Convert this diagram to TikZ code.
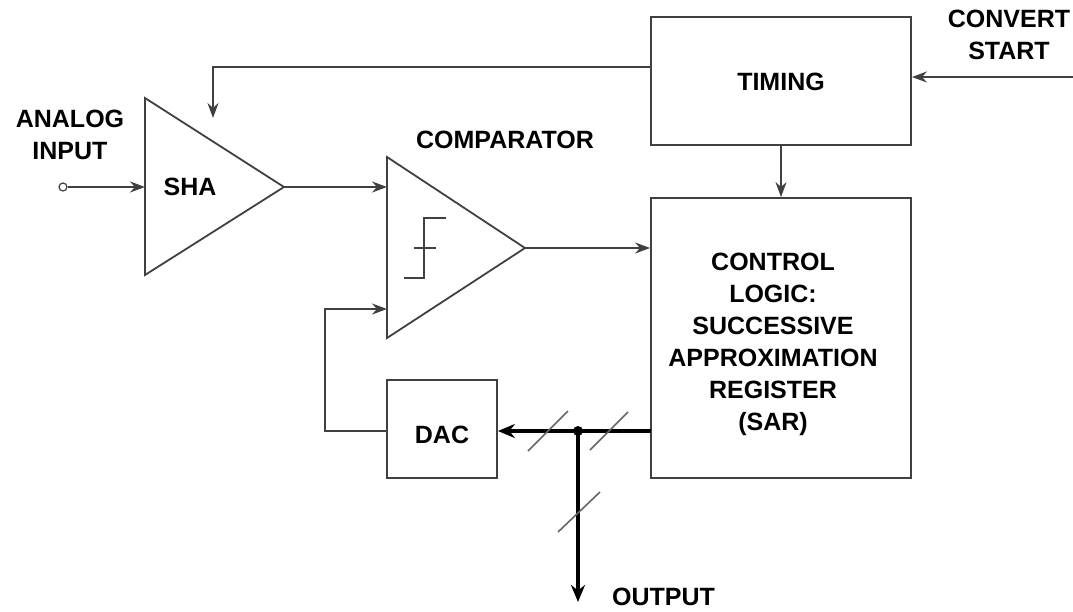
\documentclass[tikz,border=0pt]{standalone}
\usepackage{fontspec}
\setmainfont{Liberation Sans}
\usetikzlibrary{arrows.meta}
\begin{document}
\begin{tikzpicture}[x=1pt,y=-1pt,
  ln/.style={draw=black!75,line width=1.8pt},
  arr/.style={ln,-{Stealth[length=15pt,width=11pt]}},
  bus/.style={draw=black,line width=3.5pt,-{Stealth[length=17pt,width=14pt]}},
  slash/.style={draw=black!60,line width=1.6pt},
  box/.style={ln,fill=white,inner sep=0pt},
  lbl/.style={font=\fontsize{25}{32}\selectfont\bfseries,align=center,inner sep=0pt}]
\useasboundingbox (0,0) rectangle (1073,611);
% boxes
\node[box,minimum width=260pt,minimum height=128pt] (timing) at (781,81) {};
\node[lbl] (timingtxt) at (781,82) {TIMING};
\node[box,minimum width=260pt,minimum height=280pt] (sar) at (781,338) {};
\node[lbl,align=center] (sartxt) at (773,344) {CONTROL\\LOGIC:\\SUCCESSIVE\\APPROXIMATION\\REGISTER\\(SAR)};
\node[box,minimum width=110pt,minimum height=98pt] (dac) at (442,429) {};
\node[lbl] (dactxt) at (442,435) {DAC};
% SHA triangle
\coordinate (shaA) at (145,98);
\coordinate (shaB) at (145,275);
\coordinate (shaOut) at (284,187);
\coordinate (shaIn) at (145,187);
\draw[ln] (shaA) -- (shaOut) -- (shaB) -- cycle;
\node[lbl] (shatxt) at (190,187) {SHA};
% comparator triangle
\coordinate (cmpA) at (387,157);
\coordinate (cmpB) at (387,338);
\coordinate (cmpOut) at (525,248);
\coordinate (cmpIn1) at (387,187);
\coordinate (cmpIn2) at (387,309);
\draw[ln] (cmpA) -- (cmpOut) -- (cmpB) -- cycle;
\draw[ln] (446,218) -- (424,218) -- (424,278) -- (404,278);
\draw[ln] (414,248) -- (436,248);
\node[lbl] (cmptxt) at (505,140) {COMPARATOR};
% analog input
\node[lbl] (aintxt) at (70,135) {ANALOG\\INPUT};
\node[circle,draw=black!75,line width=1.2pt,minimum size=8pt,inner sep=0pt] (ain) at (63,187) {};
\draw[arr] (ain) -- (shaIn);
\draw[arr] (shaOut) -- (cmpIn1);
\draw[arr] (cmpOut) -- (sar.west |- cmpOut);
% convert start
\node[lbl] (cstxt) at (1009,35) {CONVERT\\START};
\coordinate (csin) at (1073,77);
\draw[arr] (csin) -- (timing.east |- csin);
% timing to SHA
\coordinate (tsha) at (213,67);
\draw[arr] (timing.west |- tsha) -- (tsha) -- (213,118);
% timing to SAR
\draw[arr] (timing.south) -- (sar.north);
% bus
\coordinate (busS) at (651,431);
\coordinate (junc) at (578,431);
\coordinate (outEnd) at (578,602);
\draw[bus] (busS) -- (dac.east |- busS);
\fill (junc) circle (5pt);
\draw[bus] (junc) -- (outEnd);
\draw[slash] (528,451) -- (568,411);
\draw[slash] (590,450) -- (628,412);
\draw[slash] (558,532) -- (600,492);
\node[lbl,anchor=west] (outtxt) at (612,597) {OUTPUT};
% feedback
\coordinate (fb1) at (325,431);
\coordinate (fb2) at (325,309);
\draw[arr] (dac.west |- fb1) -- (fb1) -- (fb2) -- (cmpIn2);
\end{tikzpicture}
\end{document}
